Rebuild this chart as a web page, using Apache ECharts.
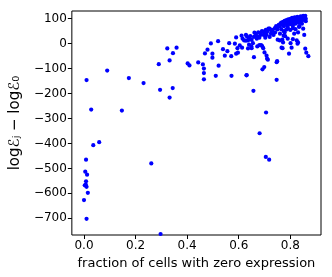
<!DOCTYPE html>
<html><head><meta charset="utf-8">
<script src="https://cdn.jsdelivr.net/npm/echarts@6/dist/echarts.min.js"></script>
<style>html,body{margin:0;padding:0;background:#fff}#c{width:332px;height:277px}</style>
</head><body><div id="c"></div>
<script>
// fraction of cells with zero expression
const xs = [
0.010,0.090,0.174,0.231,0.028,0.147,0.290,0.295,0.323,0.359,0.345,0.332,0.344,0.332,0.402,0.409,
0.036,0.059,0.008,0.005,0.012,0.008,0.007,0.003,0.010,0.015,0.000,0.010,0.261,0.297,0.705,0.718,
0.465,0.511,0.572,0.630,0.747,0.657,0.706,0.681,
0.443,0.461,0.465,0.465,0.522,0.492,0.520,0.479,0.469,0.498,0.498,0.539,0.556,0.546,0.571,0.563,0.590,0.597,
0.595,0.604,0.613,0.611,0.621,0.628,0.636,0.632,0.640,0.649,0.636,0.628,0.655,0.659,0.661,0.667,0.676,0.685,0.672,0.680,0.691,0.695,0.708,0.710,0.699,0.692,0.659,0.631,0.650,0.672,
0.697,0.708,0.703,0.720,0.730,0.741,0.750,0.757,0.762,0.751,0.747,0.769,0.772,0.774,0.770,0.778,0.784,0.790,0.801,0.805,0.795,0.828,0.825,0.830,0.830,0.854,0.858,0.862,0.870,0.834,0.810,0.766,0.759,0.687,0.700,0.713,0.749,0.680,0.718,0.726,0.695,
0.720,0.730,0.740,0.745,0.750,0.755,0.760,0.765,0.770,0.772,0.775,0.778,0.780,0.782,0.785,0.787,0.790,0.792,0.795,0.797,0.800,0.800,0.803,0.805,0.807,0.810,0.810,0.812,0.815,0.817,0.820,0.820,0.822,0.825,0.827,0.830,0.830,0.832,0.835,0.837,0.840,0.840,0.842,0.845,0.847,0.850,0.850,0.852,0.855,0.858,0.860,0.790,0.800,0.810,0.820,0.775,0.765,0.835,0.845,0.850,0.860,0.815,0.780,0.760,0.790,
0.615,0.640,0.645,0.650,0.665,0.670,0.685,0.690,0.700,0.705,0.710,0.715,0.725,0.735,0.590,0.585
];
// log E_j - log E_0
const ys = [
-146,-108,-138,-158,-264,-268,-82,-185,-19,-16,-38,-67,-178,-216,-79,-87,
-407,-395,-465,-513,-525,-552,-565,-568,-574,-598,-627,-702,-480,-763,-454,-465,
-143,-129,-129,-127,-145,-189,-276,-359,
-75,-83,-100,-118,-88,1,10,-24,-39,-40,-56,-22,-30,-48,-50,2,-40,-36,
-18,-7,-16,32,13,12,13,29,-4,-11,-19,35,2,27,44,40,45,43,29,-6,-10,-18,-48,-60,-94,-103,-54,-126,-18,-11,
35,35,24,27,51,45,57,69,80,16,-74,16,5,32,-18,45,56,67,2,-16,-40,0,13,5,45,35,-20,-36,-50,67,18,-16,13,-6,-35,-64,-70,24,59,51,48,
60,55,62,70,66,75,72,84,78,88,70,92,80,86,95,76,88,98,84,92,100,78,90,96,104,86,72,98,92,106,100,80,88,96,108,92,102,84,98,106,96,110,88,102,94,108,112,98,105,112,100,60,55,62,58,50,58,70,80,60,90,40,30,40,20,
20,22,30,15,30,20,35,50,45,55,48,60,40,35,25,0
];
const xTicks = [0.0,0.2,0.4,0.6,0.8];
const yTicks = [100,0,-100,-200,-300,-400,-500,-600,-700];

const pts = xs.map((x,i)=>[x, ys[i]]);
const chart = echarts.init(document.getElementById('c'), null, {renderer:'canvas'});
const font = 'DejaVu Sans';
chart.setOption({
  animation:false,
  grid:{left:69,right:11,top:11,bottom:42,show:true,borderColor:'#000',borderWidth:1,backgroundColor:'transparent'},
  xAxis:{type:'value',min:-0.047,max:0.919,
    name:'fraction of cells with zero expression',nameLocation:'middle',nameGap:22,
    nameTextStyle:{fontFamily:font,fontSize:13,color:'#000'},
    axisLine:{show:false,onZero:false},splitLine:{show:false},
    axisTick:{show:true,customValues:xTicks,length:4,lineStyle:{color:'#000'}},
    axisLabel:{customValues:xTicks,fontFamily:font,fontSize:12,color:'#000',margin:5,formatter:v=>v.toFixed(1)}},
  yAxis:{type:'value',min:-767,max:131,
    name:'logℰⱼ − logℰ₀',nameLocation:'middle',nameGap:45,nameRotate:90,
    nameTextStyle:{fontFamily:font,fontSize:15,color:'#000'},
    axisLine:{show:false,onZero:false},splitLine:{show:false},
    axisTick:{show:true,customValues:yTicks,length:4,lineStyle:{color:'#000'}},
    axisLabel:{customValues:yTicks,fontFamily:font,fontSize:12,color:'#000',margin:5,formatter:v=>String(v).replace('-','−')}},
  series:[{type:'scatter',data:pts,symbolSize:4.2,itemStyle:{color:'#0000ff',opacity:1}}]
});
</script></body></html>
